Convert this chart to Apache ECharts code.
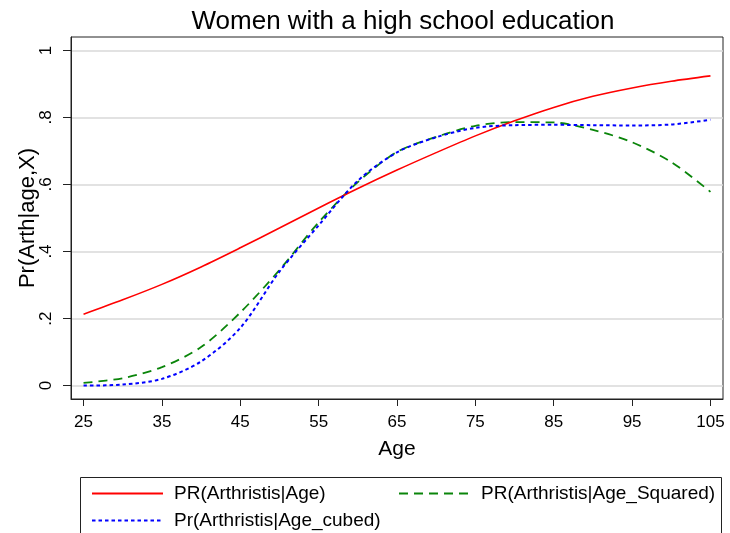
<!DOCTYPE html>
<html>
<head>
<meta charset="utf-8">
<script src="https://cdn.jsdelivr.net/npm/echarts@6/dist/echarts.min.js"></script>
<style>
  html, body { margin: 0; padding: 0; background: #fff; }
  #chart { width: 730px; height: 533px; }
</style>
</head>
<body>
<div id="chart"></div>
<script>
// Predicted probability of arthritis by age, three logit specifications
const ages = [25, 30, 35, 40, 45, 50, 55, 60, 65, 70, 75, 80, 85, 90, 95, 100, 105];
const prAge     = [0.213, 0.256, 0.302, 0.354, 0.411, 0.470, 0.530, 0.588, 0.643, 0.695, 0.745, 0.790, 0.830, 0.863, 0.888, 0.908, 0.924];
const prSquared = [0.008, 0.022, 0.055, 0.115, 0.218, 0.345, 0.487, 0.607, 0.697, 0.742, 0.775, 0.786, 0.785, 0.763, 0.726, 0.667, 0.578];
const prCubed   = [0.000, 0.003, 0.020, 0.072, 0.172, 0.340, 0.478, 0.611, 0.696, 0.741, 0.769, 0.777, 0.778, 0.777, 0.776, 0.779, 0.793];

const xTicks = [25, 35, 45, 55, 65, 75, 85, 95, 105];
const yTicks = [0, 0.2, 0.4, 0.6, 0.8, 1];
const yTickText = ['0', '.2', '.4', '.6', '.8', '1'];

const seriesNames = ['PR(Arthristis|Age)', 'PR(Arthristis|Age_Squared)', 'Pr(Arthristis|Age_cubed)'];

const FONT = 'Liberation Sans, Arial, sans-serif';
const pairs = (ys) => ages.map((a, i) => [a, ys[i]]);

// one legend entry per box so the two-column key can be placed freely
const legendEntry = (name, left, top) => ({
  data: [name],
  orient: 'horizontal',
  left: left, top: top,
  itemWidth: 71, itemHeight: 12,
  itemStyle: { opacity: 0 },
  textStyle: { fontFamily: FONT, fontSize: 19, color: '#000', padding: [0, 0, 0, 6] }
});

const chart = echarts.init(document.getElementById('chart'), null, { renderer: 'canvas' });

chart.setOption({
  animation: false,
  backgroundColor: '#ffffff',
  title: {
    text: 'Women with a high school education',
    left: 398,
    textAlign: 'center',
    top: 4,
    textStyle: { fontFamily: FONT, fontWeight: 'normal', fontSize: 26, color: '#000' }
  },
  grid: {
    left: 71, right: 7, top: 37, bottom: 134,
    show: true, borderColor: '#222', borderWidth: 1, backgroundColor: '#fff'
  },
  xAxis: {
    type: 'value',
    min: 23.4, max: 106.6,
    name: 'Age',
    nameLocation: 'middle',
    nameGap: 40,
    nameMoveOverlap: false,
    nameTextStyle: { fontFamily: FONT, fontSize: 21, color: '#000' },
    axisLine: { show: true, onZero: false, lineStyle: { color: '#222', width: 1 } },
    axisTick: { show: true, length: 7, customValues: xTicks, lineStyle: { color: '#222' } },
    axisLabel: { customValues: xTicks, fontFamily: FONT, fontSize: 17, color: '#000', margin: 15 },
    splitLine: { show: false }
  },
  yAxis: {
    type: 'value',
    min: -0.04, max: 1.04,
    name: 'Pr(Arth|age,X)',
    nameLocation: 'middle',
    nameGap: 32,
    nameMoveOverlap: false,
    nameTextStyle: { fontFamily: FONT, fontSize: 22, color: '#000' },
    axisLine: { show: true, onZero: false, lineStyle: { color: '#222', width: 1 } },
    axisTick: { show: true, length: 8, customValues: yTicks, lineStyle: { color: '#222' } },
    axisLabel: {
      customValues: yTicks,
      rotate: 90,
      fontFamily: FONT, fontSize: 17, color: '#000', margin: 16,
      formatter: (v) => yTickText[yTicks.findIndex(t => Math.abs(t - v) < 1e-6)] ?? ''
    },
    splitLine: { show: true, lineStyle: { color: '#d9d9d9', width: 1.5 } }
  },
  legend: [
    legendEntry(seriesNames[0], 86, 479),
    legendEntry(seriesNames[1], 393, 479),
    legendEntry(seriesNames[2], 86, 506)
  ],
  graphic: [
    {
      type: 'rect',
      left: 78, top: 475,
      shape: { width: 641, height: 80 },
      style: { fill: 'none', stroke: '#222', lineWidth: 1 },
      silent: true
    }
  ],
  series: [
    {
      name: seriesNames[0],
      type: 'line',
      data: pairs(prAge),
      symbol: 'none',
      smooth: 0.3,
      color: '#ff0000',
      lineStyle: { color: '#ff0000', width: 1.6, type: 'solid' },
      z: 3
    },
    {
      name: seriesNames[1],
      type: 'line',
      data: pairs(prSquared),
      symbol: 'none',
      smooth: 0.3,
      color: '#0a850a',
      lineStyle: { color: '#0a850a', width: 1.8, type: [9, 6] },
      z: 2
    },
    {
      name: seriesNames[2],
      type: 'line',
      data: pairs(prCubed),
      symbol: 'none',
      smooth: 0.3,
      color: '#0000ff',
      lineStyle: { color: '#0000ff', width: 2, type: [3.5, 3] },
      z: 4
    }
  ]
});
</script>
</body>
</html>
